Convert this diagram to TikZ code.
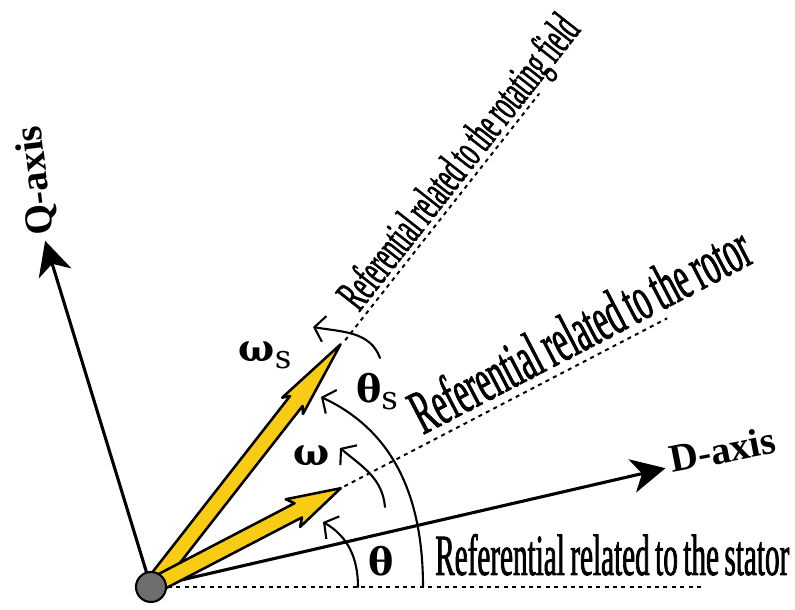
\documentclass[tikz,border=0pt]{standalone}
\usepackage{fontspec}
\setmainfont{Liberation Serif}
\newfontfamily\narrowfont[FakeStretch=0.5,FakeBold=1.2,WordSpace=0.75]{Liberation Serif}
\newfontfamily\greekfont{DejaVu Serif}
\usepackage{xcolor}
\definecolor{myyellow}{RGB}{248,204,20}
\definecolor{mygray}{RGB}{110,110,110}
\usepackage{tikz}
\usetikzlibrary{arrows.meta}
\newcommand{\Phasor}[4]{
\draw[phasor,rotate=#1] (0,-0.2) -- (#2-#3+0.15,-0.2) -- (#2-#3,-#4) -- (#2,0)
 -- (#2-#3,#4) -- (#2-#3+0.15,0.2) -- (0,0.2) -- cycle;}
\newcommand{\Sub}[1]{\raisebox{-5pt}{\mdseries\fontsize{23}{23}\selectfont #1}}

\begin{document}
\begin{tikzpicture}[line cap=round,line join=round]
	\tikzstyle{axis}=[line width=2.2pt,-{Stealth[length=8.5mm,width=8.5mm,inset=2.5mm]}];
	\tikzstyle{refline}=[line width=1.4pt,line cap=butt,dash pattern=on 1mm off 1.1mm];
	\tikzstyle{turn}=[line width=1.5pt,-{Straight Barb[length=2.5mm,width=6.5mm]}];
	\tikzstyle{phasor}=[line width=1.8pt,fill=myyellow,draw=black];
	\tikzstyle{reftext}=[font=\narrowfont\fontsize{41.5}{44}\selectfont,inner sep=0pt];
	\tikzstyle{axtext}=[font=\bfseries\fontsize{28}{30}\selectfont,inner sep=0pt];
	\tikzstyle{greek}=[font=\greekfont\bfseries\fontsize{27}{30}\selectfont,inner sep=0pt];
	\useasboundingbox (-3.775,-0.575) rectangle (16.1,14.675);
	\coordinate (O)   at (0,0);
	\coordinate (D)   at (13:13.2);
	\coordinate (Q)   at (107:9.05);
	\coordinate (S)   at (13.85,0);
	\coordinate (R1)  at (27.5:5.45);
	\coordinate (R2)  at (27.5:14.55);
	\coordinate (F1)  at (51.8:7.85);
	\coordinate (F2)  at (51.8:15.7);
	\coordinate (t1)  at (5.175,0);
	\coordinate (t2)  at (4.3,1.625);
	\coordinate (w1)  at (5.85,2.0);
	\coordinate (w2)  at (4.725,3.475);
	\coordinate (ts1) at (6.8,0);
	\coordinate (ts2) at (4.25,4.75);
	\coordinate (ws1) at (5.725,5.725);
	\coordinate (ws2) at (4.05,6.5);
	%% reference lines
	\draw[refline] (O) -- (S);
	\draw[refline] (R1) -- (R2);
	\draw[refline] (F1) -- (F2);
	%% axes
	\draw[axis] (O) -- (D);
	\draw[axis] (O) -- (Q);
	%% angles and speeds
	\draw[turn] (t1) to[out=90,in=-30] (t2);
	\draw[turn] (w1) to[out=95,in=-40] (w2);
	\draw[turn] (ts1) to[out=90,in=-25] (ts2);
	\draw[turn] (ws1) to[out=110,in=-10] (ws2);
	%% phasors
	\Phasor{52}{7.7}{1.95}{0.33}
	\Phasor{27.5}{5.35}{1.35}{0.39}
	\node[circle,draw,line width=1.5pt,fill=mygray,minimum size=0.75cm,inner sep=0pt] (hub) at (O) {};
	%% Labels
	\node[reftext,anchor=base west] (stator) at (7.1,0.3) {Referential related to the stator};
	\node[reftext,anchor=base west,rotate=27.5,font=\narrowfont\fontsize{45}{50}\selectfont] (rotor) at (6.8,3.8) {Referential related to the rotor};
	\node[reftext,anchor=base west,rotate=51.8,font=\narrowfont\fontsize{34}{38}\selectfont] (field) at (5.2,6.85) {Referential related to the rotating field};
	\node[axtext,anchor=base west,rotate=11] (Dlab) at (13.03,2.85) {D-axis};
	\node[axtext,anchor=west,rotate=97] (Qlab) at (-2.69,8.8) {Q-axis};
	\node[greek] (ws) at (2.85,5.78) {ω\Sub{s}};
	\node[greek] (ths) at (5.65,4.88) {θ\Sub{s}};
	\node[greek] (w) at (4.025,3.275) {ω};
	\node[greek] (th) at (5.75,0.65) {θ};
\end{tikzpicture}
\end{document}
